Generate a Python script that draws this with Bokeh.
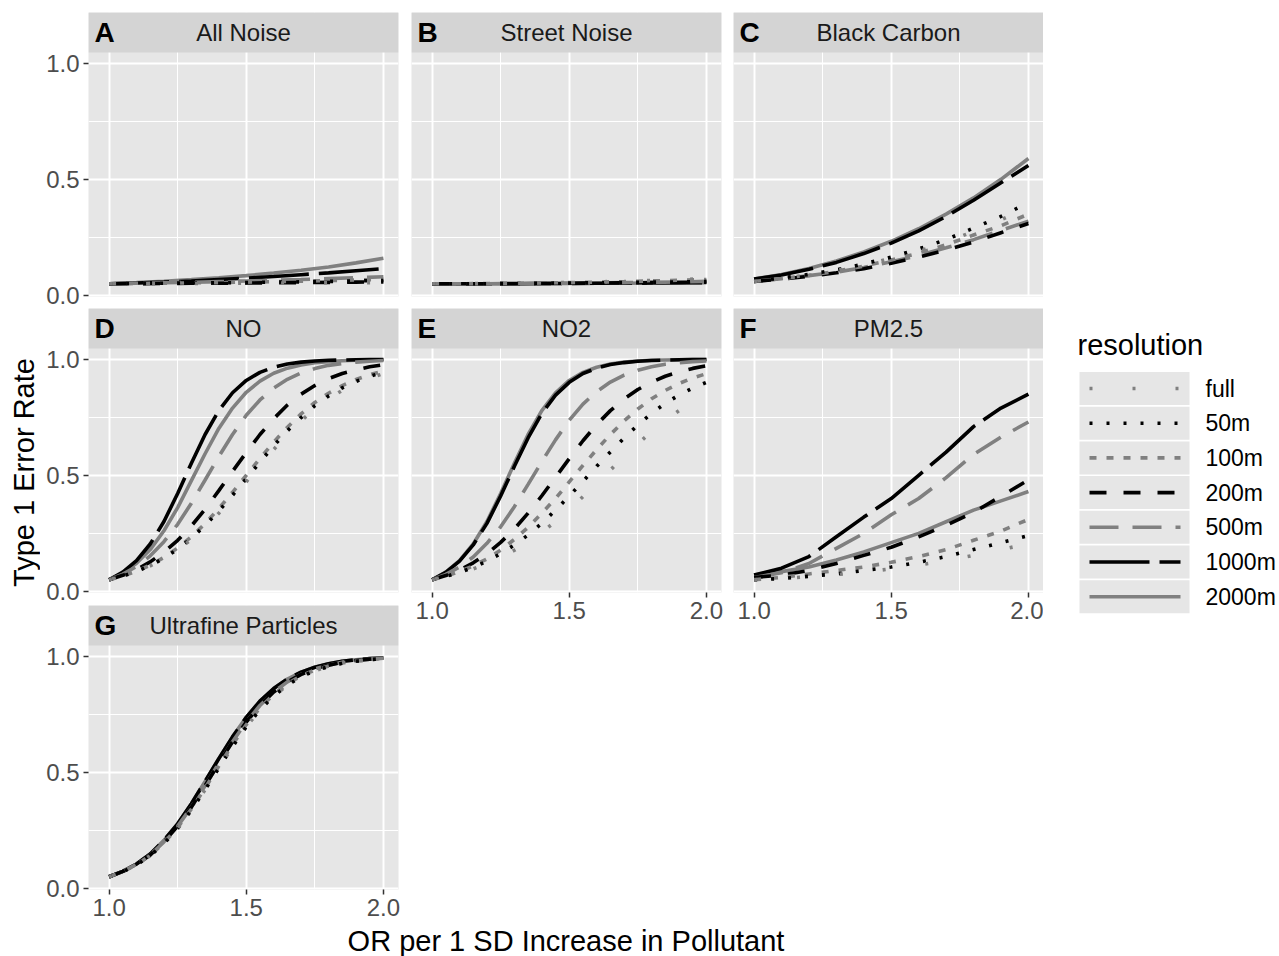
import math
from bokeh.plotting import figure
from bokeh.models import Range1d, FixedTicker, BoxAnnotation, Label, NumeralTickFormatter
from bokeh.layouts import row, column
from bokeh.embed import file_html
from bokeh.resources import INLINE
from bokeh.core.properties import value

# ---------------- data ----------------
or_values = [1.0, 1.1, 1.2, 1.3, 1.4, 1.5, 1.6, 1.7, 1.8, 1.9, 2.0]
or_values_fine = [1.0, 1.05, 1.1, 1.15, 1.2, 1.25, 1.3, 1.35, 1.4, 1.45, 1.5,
                  1.55, 1.6, 1.65, 1.7, 1.75, 1.8, 1.85, 1.9, 1.95, 2.0]
resolutions = ["full", "50m", "100m", "200m", "500m", "1000m", "2000m"]

panel_letters = ["A", "B", "C", "D", "E", "F", "G"]
panel_titles = ["All Noise", "Street Noise", "Black Carbon", "NO", "NO2", "PM2.5", "Ultrafine Particles"]

# each list: one series per resolution (full, 50m, 100m, 200m, 500m, 1000m, 2000m)
all_noise = [
    [0.050, 0.050, 0.051, 0.051, 0.052, 0.052, 0.053, 0.053, 0.054, 0.054, 0.055],
    [0.050, 0.051, 0.052, 0.053, 0.054, 0.055, 0.057, 0.058, 0.060, 0.062, 0.064],
    [0.050, 0.051, 0.052, 0.054, 0.055, 0.057, 0.059, 0.061, 0.064, 0.066, 0.069],
    [0.050, 0.050, 0.051, 0.052, 0.052, 0.053, 0.054, 0.055, 0.056, 0.057, 0.058],
    [0.050, 0.052, 0.054, 0.056, 0.059, 0.062, 0.065, 0.068, 0.072, 0.076, 0.080],
    [0.050, 0.053, 0.057, 0.062, 0.068, 0.074, 0.081, 0.089, 0.097, 0.106, 0.115],
    [0.050, 0.055, 0.061, 0.068, 0.076, 0.085, 0.096, 0.108, 0.122, 0.140, 0.160],
]
street_noise = [
    [0.050, 0.050, 0.051, 0.052, 0.054, 0.056, 0.058, 0.061, 0.064, 0.068, 0.072],
    [0.050, 0.050, 0.050, 0.051, 0.052, 0.053, 0.054, 0.055, 0.057, 0.058, 0.060],
    [0.050, 0.050, 0.051, 0.052, 0.053, 0.055, 0.057, 0.059, 0.062, 0.065, 0.068],
    [0.050, 0.050, 0.050, 0.051, 0.051, 0.052, 0.053, 0.054, 0.055, 0.056, 0.057],
    [0.050, 0.050, 0.050, 0.051, 0.052, 0.053, 0.054, 0.055, 0.056, 0.058, 0.060],
    [0.050, 0.050, 0.050, 0.050, 0.051, 0.051, 0.052, 0.052, 0.053, 0.054, 0.055],
    [0.050, 0.050, 0.050, 0.050, 0.051, 0.051, 0.052, 0.052, 0.053, 0.053, 0.054],
]
black_carbon = [
    [0.060, 0.073, 0.088, 0.107, 0.130, 0.160, 0.190, 0.230, 0.275, 0.325, 0.380],
    [0.060, 0.075, 0.090, 0.110, 0.135, 0.165, 0.200, 0.240, 0.290, 0.340, 0.400],
    [0.060, 0.072, 0.086, 0.104, 0.126, 0.152, 0.182, 0.218, 0.260, 0.300, 0.350],
    [0.060, 0.070, 0.082, 0.097, 0.115, 0.138, 0.165, 0.195, 0.230, 0.270, 0.310],
    [0.060, 0.072, 0.085, 0.100, 0.120, 0.145, 0.172, 0.205, 0.240, 0.280, 0.320],
    [0.070, 0.088, 0.112, 0.142, 0.180, 0.225, 0.278, 0.340, 0.410, 0.485, 0.560],
    [0.070, 0.090, 0.116, 0.148, 0.187, 0.233, 0.287, 0.350, 0.420, 0.500, 0.590],
]
# NO, NO2 and ultrafine particles are read on the finer OR grid (or_values_fine)
no = [
    [0.050, 0.065, 0.085, 0.110, 0.140, 0.178, 0.224, 0.276, 0.337, 0.400, 0.472,
     0.543, 0.611, 0.676, 0.735, 0.786, 0.830, 0.866, 0.896, 0.920, 0.938],
    [0.050, 0.066, 0.086, 0.111, 0.143, 0.182, 0.229, 0.284, 0.346, 0.414, 0.485,
     0.557, 0.627, 0.692, 0.749, 0.800, 0.842, 0.877, 0.905, 0.927, 0.944],
    [0.050, 0.066, 0.087, 0.113, 0.146, 0.187, 0.235, 0.292, 0.357, 0.427, 0.500,
     0.573, 0.643, 0.707, 0.765, 0.814, 0.854, 0.887, 0.913, 0.934, 0.950],
    [0.050, 0.069, 0.094, 0.127, 0.169, 0.220, 0.282, 0.354, 0.434, 0.517, 0.598,
     0.676, 0.744, 0.803, 0.850, 0.887, 0.917, 0.939, 0.955, 0.968, 0.977],
    [0.050, 0.074, 0.107, 0.153, 0.214, 0.289, 0.380, 0.480, 0.581, 0.676, 0.759,
     0.825, 0.876, 0.914, 0.941, 0.960, 0.974, 0.982, 0.988, 0.992, 0.995],
    [0.050, 0.083, 0.132, 0.204, 0.301, 0.422, 0.552, 0.676, 0.779, 0.856, 0.909,
     0.944, 0.966, 0.980, 0.988, 0.993, 0.996, 0.997, 0.998, 0.999, 0.999],
    [0.050, 0.079, 0.121, 0.180, 0.261, 0.361, 0.477, 0.593, 0.702, 0.790, 0.858,
     0.906, 0.940, 0.962, 0.976, 0.985, 0.990, 0.994, 0.996, 0.997, 0.998],
]
no2 = [
    [0.050, 0.063, 0.078, 0.097, 0.119, 0.145, 0.177, 0.214, 0.255, 0.301, 0.353,
     0.408, 0.465, 0.523, 0.581, 0.636, 0.689, 0.736, 0.779, 0.817, 0.849],
    [0.050, 0.064, 0.082, 0.103, 0.130, 0.162, 0.200, 0.243, 0.293, 0.350, 0.411,
     0.474, 0.539, 0.601, 0.661, 0.717, 0.767, 0.810, 0.846, 0.876, 0.901],
    [0.050, 0.065, 0.085, 0.110, 0.140, 0.178, 0.224, 0.276, 0.337, 0.400, 0.472,
     0.543, 0.611, 0.676, 0.735, 0.786, 0.830, 0.866, 0.896, 0.920, 0.938],
    [0.050, 0.068, 0.092, 0.123, 0.162, 0.211, 0.269, 0.337, 0.412, 0.492, 0.572,
     0.649, 0.719, 0.779, 0.829, 0.870, 0.902, 0.927, 0.946, 0.961, 0.972],
    [0.050, 0.073, 0.105, 0.148, 0.207, 0.278, 0.365, 0.461, 0.559, 0.653, 0.737,
     0.807, 0.861, 0.902, 0.932, 0.953, 0.968, 0.979, 0.985, 0.990, 0.993],
    [0.050, 0.082, 0.130, 0.200, 0.293, 0.411, 0.539, 0.661, 0.767, 0.846, 0.901,
     0.939, 0.962, 0.978, 0.986, 0.992, 0.995, 0.997, 0.998, 0.999, 0.999],
    [0.050, 0.083, 0.132, 0.204, 0.301, 0.422, 0.552, 0.676, 0.779, 0.856, 0.909,
     0.944, 0.966, 0.980, 0.988, 0.993, 0.996, 0.997, 0.998, 0.999, 0.999],
]
pm25 = [
    [0.050, 0.055, 0.063, 0.072, 0.083, 0.097, 0.113, 0.132, 0.155, 0.180, 0.205],
    [0.050, 0.055, 0.065, 0.075, 0.090, 0.105, 0.125, 0.150, 0.180, 0.210, 0.240],
    [0.050, 0.060, 0.075, 0.090, 0.105, 0.125, 0.150, 0.180, 0.220, 0.260, 0.310],
    [0.060, 0.070, 0.090, 0.120, 0.155, 0.190, 0.235, 0.285, 0.340, 0.410, 0.480],
    [0.060, 0.080, 0.120, 0.185, 0.250, 0.330, 0.400, 0.490, 0.590, 0.665, 0.730],
    [0.070, 0.100, 0.150, 0.235, 0.320, 0.400, 0.500, 0.600, 0.710, 0.790, 0.850],
    [0.070, 0.085, 0.105, 0.135, 0.170, 0.210, 0.250, 0.300, 0.350, 0.390, 0.430],
]
ultrafine = [
    [0.050, 0.072, 0.101, 0.141, 0.193, 0.258, 0.337, 0.425, 0.519, 0.611, 0.696,
     0.770, 0.829, 0.876, 0.912, 0.938, 0.956, 0.970, 0.979, 0.986, 0.990],
    [0.050, 0.072, 0.101, 0.141, 0.193, 0.258, 0.337, 0.425, 0.519, 0.611, 0.696,
     0.770, 0.829, 0.876, 0.912, 0.938, 0.956, 0.970, 0.979, 0.986, 0.990],
    [0.050, 0.072, 0.102, 0.142, 0.196, 0.262, 0.342, 0.432, 0.527, 0.620, 0.705,
     0.778, 0.836, 0.882, 0.916, 0.941, 0.958, 0.971, 0.980, 0.986, 0.991],
    [0.050, 0.073, 0.103, 0.144, 0.200, 0.268, 0.350, 0.442, 0.539, 0.632, 0.717,
     0.788, 0.846, 0.890, 0.922, 0.946, 0.962, 0.975, 0.982, 0.988, 0.992],
    [0.050, 0.073, 0.103, 0.144, 0.200, 0.268, 0.350, 0.442, 0.539, 0.632, 0.717,
     0.788, 0.846, 0.890, 0.922, 0.946, 0.962, 0.975, 0.982, 0.988, 0.992],
    [0.050, 0.073, 0.105, 0.148, 0.207, 0.278, 0.365, 0.461, 0.559, 0.653, 0.737,
     0.807, 0.861, 0.902, 0.932, 0.953, 0.968, 0.979, 0.985, 0.990, 0.993],
    [0.050, 0.073, 0.105, 0.148, 0.207, 0.278, 0.365, 0.461, 0.559, 0.653, 0.737,
     0.807, 0.861, 0.902, 0.932, 0.953, 0.968, 0.979, 0.985, 0.990, 0.993],
]

x_ticks = [1.0, 1.5, 2.0]
x_minor = [1.25, 1.75]
y_ticks = [0.0, 0.5, 1.0]
y_minor = [0.25, 0.75]

# ---------------- styles ----------------
FONT = "Liberation Sans"
PANEL_BG = "#e6e6e6"
STRIP_BG = "#d4d4d4"
GREY = "#808080"
BLACK = "#000000"
res_colors = [GREY, BLACK, GREY, BLACK, GREY, BLACK, GREY]
res_dashes = ["3 40", "3 14", "7 10", "17 17", "29 14", "60 10", "solid"]
LINE_W = 3.6

XLO, XHI = 0.925, 2.055
YLO = -0.005
PX_PER_Y = 232.0
PANEL_H = 244
STRIP_H = 40
FRAME_W = 310
Y_PANEL_TOP = YLO + PANEL_H / PX_PER_Y
Y_TOP = YLO + (PANEL_H + STRIP_H) / PX_PER_Y


def style_axis(ax, ticks):
    ax.ticker = FixedTicker(ticks=ticks)
    ax.formatter = NumeralTickFormatter(format="0.0")
    ax.axis_line_color = None
    ax.major_tick_line_color = "#333333"
    ax.major_tick_line_width = 1.5
    ax.major_tick_in = 0
    ax.major_tick_out = 5
    ax.minor_tick_line_color = None
    ax.major_label_text_font = FONT
    ax.major_label_text_font_size = "24px"
    ax.major_label_text_color = "#4d4d4d"
    ax.major_label_standoff = 4


def make_panel(idx, xs, series, show_x, show_y, b_top, b_bottom, b_left, b_right):
    p = figure(frame_width=FRAME_W, frame_height=PANEL_H + STRIP_H,
               x_range=Range1d(XLO, XHI), y_range=Range1d(YLO, Y_TOP),
               x_axis_location="below" if show_x else None,
               y_axis_location="left" if show_y else None,
               output_backend="svg", toolbar_location=None, title=None,
               min_border_top=b_top, min_border_bottom=b_bottom,
               min_border_left=b_left, min_border_right=b_right,
               background_fill_color=PANEL_BG, border_fill_color="white",
               outline_line_color=None)
    p.xgrid.ticker = FixedTicker(ticks=x_ticks, minor_ticks=x_minor)
    p.ygrid.ticker = FixedTicker(ticks=y_ticks, minor_ticks=y_minor)
    for g in (p.xgrid, p.ygrid):
        g.grid_line_color = "white"
        g.grid_line_width = 2
        g.minor_grid_line_color = "white"
        g.minor_grid_line_width = 1
    if show_y:
        style_axis(p.yaxis[0], y_ticks)
    if show_x:
        style_axis(p.xaxis[0], x_ticks)

    for i in reversed(range(len(resolutions))):
        p.line(xs, series[i], line_color=res_colors[i], line_dash=res_dashes[i],
               line_width=LINE_W)

    p.add_layout(BoxAnnotation(bottom=Y_PANEL_TOP, fill_color=STRIP_BG, fill_alpha=1.0,
                               line_color=None))
    ymid = (Y_PANEL_TOP + Y_TOP) / 2
    p.add_layout(Label(x=XLO, y=ymid, x_offset=6, text=panel_letters[idx],
                       text_font=FONT, text_font_style="bold", text_font_size="28px",
                       text_color="#000000", text_baseline="middle", text_align="left"))
    p.add_layout(Label(x=(XLO + XHI) / 2, y=ymid, text=panel_titles[idx],
                       text_font=FONT, text_font_size="24px", text_color="#1a1a1a",
                       text_baseline="middle", text_align="center"))
    return p


pA = make_panel(0, or_values, all_noise, False, True, 12, 12, 48, 13)
pD = make_panel(3, or_values_fine, no, False, True, 0, 13, 48, 13)
pG = make_panel(6, or_values_fine, ultrafine, True, True, 0, 35, 48, 13)
pB = make_panel(1, or_values, street_noise, False, False, 12, 12, 0, 12)
pE = make_panel(4, or_values_fine, no2, True, False, 0, 35, 0, 12)
pC = make_panel(2, or_values, black_carbon, False, False, 12, 12, 0, 0)
pF = make_panel(5, or_values, pm25, True, False, 0, 35, 0, 0)

TOTAL_H = 924


def blank(width, height, x0, x1, y0, y1):
    f = figure(width=width, height=height, x_range=Range1d(x0, x1), y_range=Range1d(y0, y1),
               x_axis_location=None, y_axis_location=None, output_backend="svg",
               toolbar_location=None, title=None, min_border=0,
               outline_line_color=None, background_fill_color="white",
               border_fill_color="white")
    f.grid.visible = False
    return f


# y-axis title
ytitle = blank(40, TOTAL_H, 0, 40, TOTAL_H, 0)
ytitle.add_layout(Label(x=23, y=472, text="Type 1 Error Rate", angle=math.pi / 2,
                        text_font=FONT, text_font_size="29px", text_color="#000000",
                        text_align="center", text_baseline="middle"))

# legend
LEG_X0 = 1043
leg = blank(1279 - LEG_X0, TOTAL_H, LEG_X0, 1279, TOTAL_H, 0)
leg.text(x=[1077], y=[344], text=["resolution"], text_font=value(FONT),
         text_font_size="29px", text_baseline="middle", text_color="#000000")
KEY_Y0 = 388
KEY_STEP = 34.7
KEY_H = 33
key_y = [KEY_Y0 + KEY_STEP * i for i in range(len(resolutions))]
leg.quad(left=[1079] * len(resolutions), right=[1189] * len(resolutions),
         top=[y - KEY_H / 2 for y in key_y], bottom=[y + KEY_H / 2 for y in key_y],
         fill_color=PANEL_BG, line_color=None)
for i, y in enumerate(key_y):
    leg.line([1089, 1180], [y, y], line_color=res_colors[i], line_dash=res_dashes[i],
             line_width=LINE_W)
leg.text(x=[1205] * len(resolutions), y=key_y, text=resolutions, text_font=value(FONT),
         text_font_size="23px", text_baseline="middle", text_color="#000000")

# x-axis title
xtitle = blank(1279, 32, 0, 1279, 32, 0)
xtitle.add_layout(Label(x=(88 + 1043) / 2, y=16, text="OR per 1 SD Increase in Pollutant",
                        text_font=FONT, text_font_size="29px", text_color="#000000",
                        text_align="center", text_baseline="middle"))

layout = column(
    row(ytitle, column(pA, pD, pG), column(pB, pE), column(pC, pF), leg),
    xtitle,
)

open("out.html", "w").write(file_html(layout, INLINE))
